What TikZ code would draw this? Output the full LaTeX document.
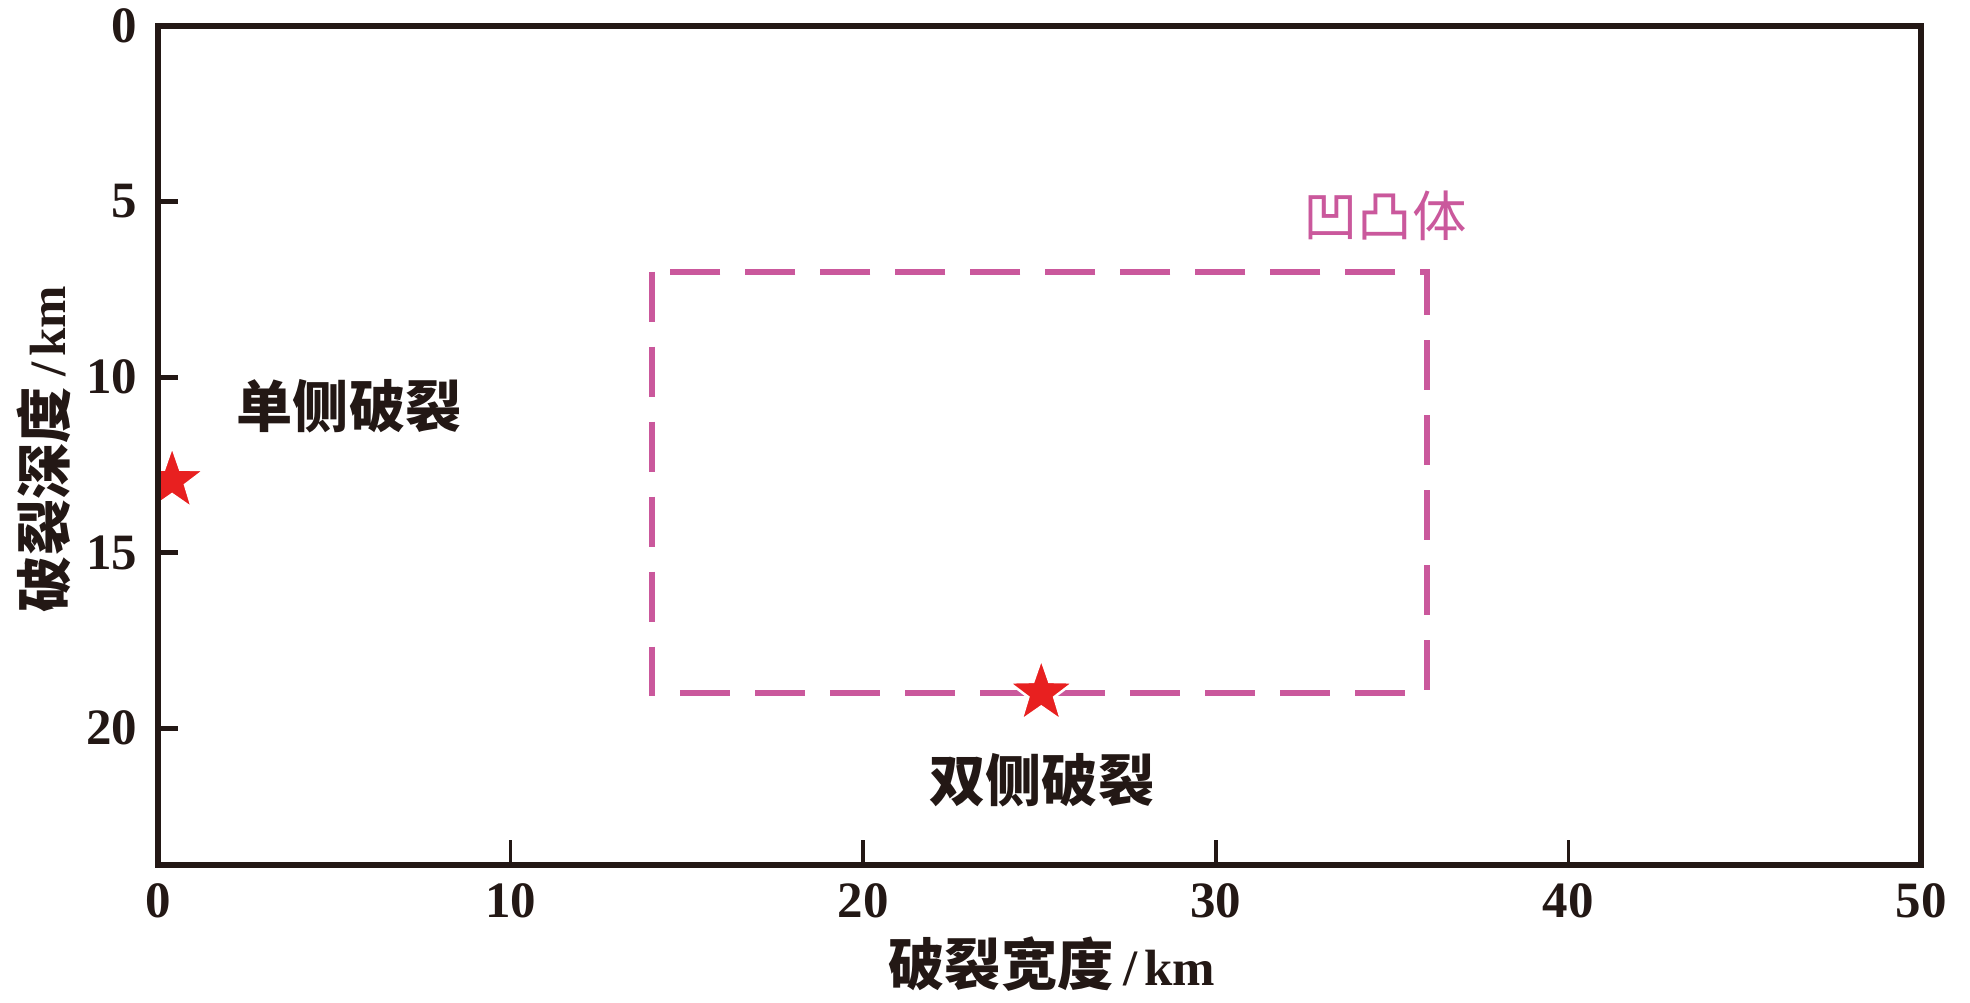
\documentclass[tikz,border=0pt]{standalone}
\usepackage{fontspec}
\setmainfont{Liberation Serif}
\newfontfamily\cjk{Noto Sans CJK SC}
\usepackage{xcolor}
\usepackage{tikz}
\usetikzlibrary{shapes.geometric}
\newcommand{\figdigit}{\rmfamily\bfseries\fontsize{14.5}{16}\selectfont}
\newcommand{\figcjk}{\cjk\bfseries\fontsize{16}{18}\selectfont}
\newcommand{\figunit}{\figdigit\hspace{.2em}/\hspace{.12em}km}
\definecolor{rpInk}{RGB}{35,24,21}
\definecolor{rpPink}{RGB}{202,88,156}
\definecolor{rpRed}{RGB}{232,32,32}
\tikzset{
  rpAxis/.style={draw=rpInk, line width=.6mm, line cap=rect},
  rpTickY/.style={draw=rpInk, line width=.5mm},
  rpTickX/.style={draw=rpInk, line width=.35mm},
  rpDash/.style={draw=rpPink, line width=.6mm,
    dash pattern=on 5mm off 2.5mm},
  rpStar/.style={star, star points=5, star point ratio=2.5,
    fill=rpRed, draw=white, line width=.25mm, inner sep=0pt,
    minimum size=6.8mm},
  rpNum/.style={font=\figdigit, text=rpInk, inner sep=0pt},
  rpText/.style={font=\figcjk, text=rpInk, inner sep=0pt}
}

\begin{document}
\begin{tikzpicture}[x=3.526mm,y=-3.51mm]
\useasboundingbox (-4.481,-0.741) rectangle (51.39,27.81);
% asperity and hypocentres
\draw[rpDash] (14,7) rectangle (36,19);
\node[font=\cjk\fontsize{15.5}{17}\selectfont, text=rpPink, inner sep=0pt] (asp) at (34.8,5.41) {凹凸体};
\begin{scope}
\clip (0,0) rectangle (50,23.9);
\node[rpStar] (hypoA) at (0.4,12.95) {};
\node[rpStar] (hypoB) at (25.05,19) {};
\end{scope}
\node[rpText] (uni) at (5.42,10.83) {单侧破裂};
\node[rpText] (bi) at (25.07,21.48) {双侧破裂};
% frame and ticks
\foreach \t in {5,10,15,20}
  \draw[rpTickY] (0,\t) -- (0.57,\t);
\foreach \t in {10,20,30,40}
  \draw[rpTickX] (\t,23.9) -- +(0,-0.7);
\draw[rpAxis] (0,0) rectangle (50,23.9);
\foreach \t in {0,5,10,15,20}
  \node[rpNum, anchor=east] (ly\t) at (-0.57,\t) {\t};
\foreach \t in {0,10,...,50}
  \node[rpNum] (lx\t) at (\t,24.93) {\t};
\node[rpText] (xlab) at (25.35,26.72) {破裂宽度\figunit};
\node[rpText, rotate=90] (ylab) at (-3.23,12.05) {破裂深度\figunit};
\end{tikzpicture}
\end{document}
